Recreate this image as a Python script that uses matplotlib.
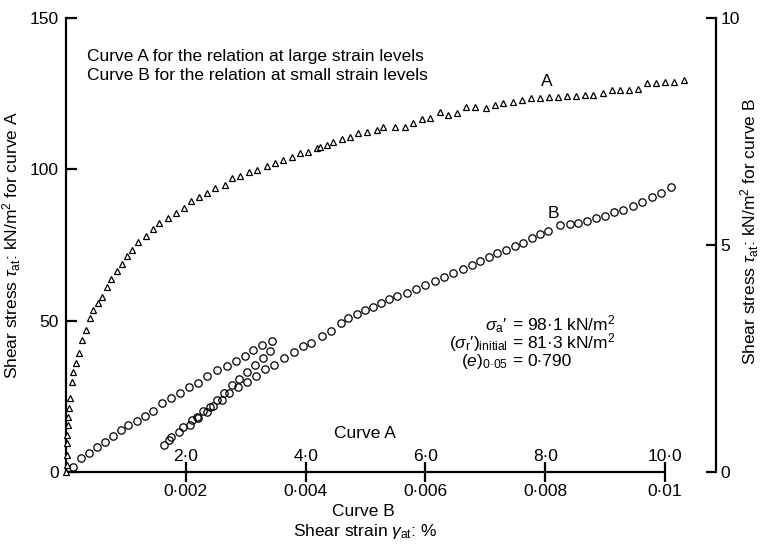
import matplotlib.pyplot as plt

plt.rcParams['font.family'] = ['Liberation Sans', 'DejaVu Sans']
plt.rcParams['mathtext.fontset'] = 'custom'
plt.rcParams['mathtext.rm'] = 'Liberation Sans'
plt.rcParams['mathtext.it'] = 'Liberation Sans:italic'

# curve A - large strain levels (strain in %, stress kN/m2 on left axis)
strain_a = [0.0, 0.017, 0.017, 0.017, 0.017, 0.033, 0.033, 0.05, 0.067, 0.10, 0.117, 0.167,
            0.217, 0.267, 0.334, 0.40, 0.45, 0.53, 0.60, 0.68, 0.75, 0.85, 0.93, 1.02, 1.10,
            1.20, 1.34, 1.45, 1.55, 1.70, 1.84, 1.97, 2.09, 2.22, 2.35, 2.49, 2.65, 2.77, 2.90,
            3.06, 3.19, 3.36, 3.49, 3.62, 3.77, 3.91, 4.04, 4.19, 4.24, 4.36, 4.46, 4.61, 4.74,
            4.87, 5.03, 5.19, 5.29, 5.49, 5.66, 5.79, 5.94, 6.08, 6.24, 6.38, 6.53, 6.68, 6.83,
            7.01, 7.16, 7.30, 7.46, 7.61, 7.76, 7.91, 8.06, 8.21, 8.36, 8.51, 8.66, 8.80, 8.96,
            9.12, 9.25, 9.40, 9.55, 9.70, 9.85, 10.0, 10.15, 10.32]
stress_a = [0.0, 2.3, 5.6, 9.6, 12.2, 15.5, 18.2, 21.1, 24.4, 29.7, 33.0, 36.0,
            39.3, 43.6, 46.9, 50.9, 53.5, 55.8, 57.8, 61.1, 63.8, 66.4, 68.7, 71.4, 73.3,
            76.0, 78.0, 80.3, 82.3, 83.9, 85.6, 87.2, 89.5, 90.8, 92.2, 93.8, 94.8, 97.1, 97.8,
            99.1, 99.8, 101.1, 102.1, 103.1, 104.1, 105.4, 105.7, 107.0, 107.4, 108.0, 109.0, 110.0, 110.7,
            112.0, 112.3, 113.0, 114.0, 114.0, 114.0, 115.3, 116.6, 117.0, 118.9, 117.9, 118.6, 120.6, 120.6,
            120.3, 121.3, 121.9, 122.3, 122.9, 123.6, 123.6, 123.9, 123.9, 124.2, 124.2, 124.5, 124.5, 125.2,
            126.2, 126.2, 126.2, 126.5, 128.5, 128.5, 128.8, 128.8, 129.5]

# curve B - small strain levels (strain in %, stress kN/m2 on right axis)
# first loading branch from the origin
strain_b0 = [0.000117, 0.00025, 0.000384, 0.000518, 0.000651, 0.000785, 0.000918, 0.001035,
             0.001185, 0.001319, 0.001452, 0.001603, 0.001753, 0.001903, 0.002053, 0.002204,
             0.002354, 0.002521, 0.002688, 0.002838, 0.002988, 0.003122, 0.003272, 0.003439]
stress_b0 = [0.11, 0.31, 0.42, 0.55, 0.66, 0.79, 0.93, 1.04, 1.12, 1.23, 1.34, 1.52,
             1.63, 1.74, 1.87, 1.96, 2.11, 2.25, 2.33, 2.44, 2.56, 2.69, 2.80, 2.89]
# reloading branch
strain_b1 = [0.001636, 0.001753, 0.001886, 0.001953, 0.002104, 0.002187, 0.002287, 0.002404,
             0.002521, 0.002638, 0.002771, 0.002888, 0.003022, 0.003155, 0.003289, 0.003406]
stress_b1 = [0.60, 0.77, 0.88, 0.99, 1.15, 1.21, 1.34, 1.43, 1.59, 1.74, 1.92, 2.05,
             2.20, 2.36, 2.51, 2.67]
# main branch
strain_b2 = [0.00172, 0.00207, 0.002204, 0.002354, 0.002454, 0.002604, 0.002721, 0.002871,
             0.003022, 0.003172, 0.003322, 0.003472, 0.003639, 0.003806, 0.003957, 0.00409,
             0.004274, 0.004424, 0.004591, 0.004708, 0.004858, 0.004992, 0.005125, 0.005259,
             0.005392, 0.005526, 0.005693, 0.005843, 0.005993, 0.00616, 0.00631, 0.00646,
             0.006628, 0.006778, 0.006912, 0.007062, 0.007195, 0.007346, 0.007496, 0.00763,
             0.00778, 0.007913, 0.008047, 0.008247, 0.008414, 0.008548, 0.008698, 0.008848,
             0.008998, 0.009149, 0.009299, 0.009466, 0.009616, 0.009783, 0.009933, 0.0101]
stress_b2 = [0.71, 1.04, 1.19, 1.32, 1.45, 1.59, 1.74, 1.87, 1.98, 2.12, 2.27, 2.36,
             2.51, 2.64, 2.78, 2.84, 3.00, 3.11, 3.28, 3.39, 3.48, 3.57, 3.63, 3.72,
             3.81, 3.88, 3.94, 4.03, 4.12, 4.21, 4.30, 4.38, 4.47, 4.56, 4.65, 4.74,
             4.82, 4.89, 4.98, 5.04, 5.15, 5.24, 5.31, 5.44, 5.46, 5.49, 5.53, 5.60,
             5.64, 5.73, 5.77, 5.86, 5.95, 6.06, 6.15, 6.28]

ticks_b = [0.002, 0.004, 0.006, 0.008, 0.01]
labels_b = ['0·002', '0·004', '0·006', '0·008', '0·01']
ticks_a = [2, 4, 6, 8, 10]
labels_a = ['2·0', '4·0', '6·0', '8·0', '10·0']
ticks_left = [0, 50, 100, 150]
ticks_right = [0, 5, 10]

W, H = 761, 544
def fx(p):
    return p / W
def fy(p):
    return 1 - p / H

fs = 12.5
fig = plt.figure(figsize=(W / 100, H / 100), dpi=100)
ax = fig.add_axes([fx(66), fy(472), (716 - 66) / W, (472 - 18) / H])
xmax_b = 0.01 * 650 / 599
ax.set_xlim(0, xmax_b)
ax.set_ylim(0, 150)
for s in ['top', 'right']:
    ax.spines[s].set_visible(False)
for s in ['left', 'bottom']:
    ax.spines[s].set_linewidth(1.6)
ax.spines['bottom'].set_bounds(0, 0.01)
ax.set_xticks(ticks_b, labels_b)
ax.set_yticks(ticks_left)
ax.tick_params(axis='y', direction='in', length=8, width=1.6, labelsize=fs, pad=5)
ax.tick_params(axis='x', direction='inout', length=14, width=1.6, labelsize=fs, pad=2)

ax.set_ylabel(r'Shear stress $\tau_{\rm at}$: kN/m$^2$ for curve A', fontsize=fs)
ax.yaxis.set_label_coords((23 - 66) / 650, 0.5)
ax.set_xlabel(r'Shear strain $\gamma_{\rm at}$: %', fontsize=fs)
ax.xaxis.set_label_coords((365 - 66) / 650, -(522 - 472) / 454)

# right axis for curve B
ax2 = ax.twinx()
ax2.set_ylim(0, 10)
for s in ['top', 'left', 'bottom']:
    ax2.spines[s].set_visible(False)
ax2.spines['right'].set_linewidth(1.6)
ax2.set_yticks(ticks_right)
ax2.tick_params(axis='y', direction='in', length=7, width=1.6, labelsize=fs, pad=3)
ax2.set_ylabel(r'Shear stress $\tau_{\rm at}$: kN/m$^2$ for curve B', fontsize=fs)
ax2.yaxis.set_label_coords((738 - 66) / 650, 0.53)

# strain scale for curve A, labels sit above the bottom axis
ax_a = ax.twiny()
ax_a.set_xlim(0, xmax_b * 1000)
for s in ax_a.spines.values():
    s.set_visible(False)
ax_a.spines['top'].set_position(('axes', 0.0))
ax_a.set_xticks(ticks_a, labels_a)
ax_a.tick_params(axis='x', length=0, labelsize=fs, pad=6)

ax_a.plot(strain_a, stress_a, linestyle='none', marker='^', ms=5, mfc='white',
          mec='black', mew=0.9, clip_on=False)
for xs, ys in [(strain_b0, stress_b0), (strain_b1, stress_b1), (strain_b2, stress_b2)]:
    ax2.plot(xs, ys, linestyle='none', marker='o', ms=5.3, mfc='none',
             mec='black', mew=0.9, clip_on=False)

fig.text(fx(87), fy(57), 'Curve A for the relation at large strain levels', fontsize=fs, va='center')
fig.text(fx(87), fy(75), 'Curve B for the relation at small strain levels', fontsize=fs, va='center')
fig.text(fx(547), fy(82), 'A', fontsize=fs, ha='center', va='center')
fig.text(fx(553), fy(213), 'B', fontsize=fs, ha='center', va='center')
fig.text(fx(365), fy(433), 'Curve A', fontsize=fs, ha='center', va='center')
fig.text(fx(363), fy(512), 'Curve B', fontsize=fs, ha='center', va='center')

params_left = ['$\\sigma_{\\rm a}$\u2032', '($\\sigma_{\\rm r}$\u2032)$_{\\rm initial}$', '($e$)$_{\\rm 0·05}$']
params_right = ['98·1 kN/m$^2$', '81·3 kN/m$^2$', '0·790']
base_y = [330, 348, 366]
for lt, rt, by in zip(params_left, params_right, base_y):
    fig.text(fx(508), fy(by), lt, fontsize=fs, ha='right', va='baseline')
    fig.text(fx(517.5), fy(by), '=', fontsize=fs, ha='center', va='baseline')
    fig.text(fx(527), fy(by), rt, fontsize=fs, ha='left', va='baseline')

fig.savefig('out.png', dpi=100)
